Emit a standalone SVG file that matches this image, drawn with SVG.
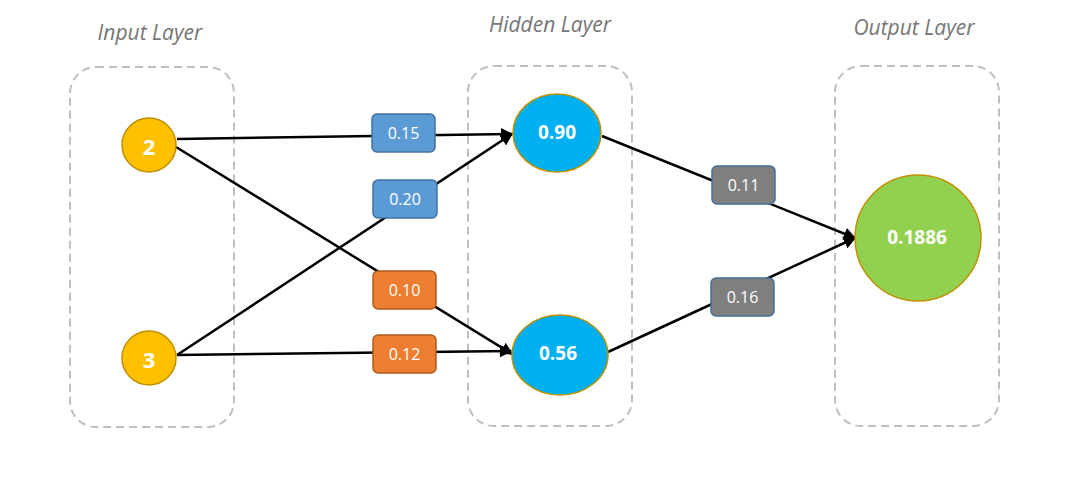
<svg xmlns="http://www.w3.org/2000/svg" width="1067" height="492" viewBox="0 0 1067 492">
<style>
.layer{fill:none;stroke:#BFBFBF;stroke-width:2;stroke-dasharray:8 5}
.title{font-family:"Open Sans","DejaVu Sans",sans-serif;font-style:italic;font-size:21px;fill:#767676}
.edge{stroke:#000;stroke-width:2.5;fill:none}
.w{font-family:"Open Sans","Liberation Sans",sans-serif;font-size:16px;fill:#fff;text-anchor:middle;dominant-baseline:central}
.n{font-family:"Open Sans","Liberation Sans",sans-serif;font-size:19px;font-weight:bold;fill:#fff;text-anchor:middle;dominant-baseline:central}
.big{font-size:22px}
.blue{fill:#5B9BD5;stroke:#41719C;stroke-width:1.5}
.orange{fill:#ED7D31;stroke:#AE5A21;stroke-width:1.5}
.gray{fill:#7F7F7F;stroke:#41719C;stroke-width:1.5}
</style>
<defs>
<marker id="arr" viewBox="0 0 10 10" refX="9" refY="5" markerWidth="5" markerHeight="5" orient="auto" markerUnits="strokeWidth">
<path d="M0,0 L10,5 L0,10 z" fill="#000"/>
</marker>
</defs>
<rect width="1067" height="492" fill="#fff"/>
<g id="layers">
<rect class="layer" x="70" y="67" width="164" height="360" rx="26"/>
<rect class="layer" x="468" y="66" width="164" height="360" rx="26"/>
<rect class="layer" x="835" y="66" width="164" height="360" rx="26"/>
<text class="title" x="150" y="40" text-anchor="middle">Input Layer</text>
<text class="title" x="550" y="32" text-anchor="middle">Hidden Layer</text>
<text class="title" x="914" y="35" text-anchor="middle">Output Layer</text>
</g>
<g id="connectors">
<line class="edge" x1="177" y1="139" x2="512" y2="134" marker-end="url(#arr)"/>
<line class="edge" x1="176" y1="147" x2="512" y2="354" marker-end="url(#arr)"/>
<line class="edge" x1="177" y1="355" x2="512" y2="134" marker-end="url(#arr)"/>
<line class="edge" x1="177" y1="355" x2="511" y2="351" marker-end="url(#arr)"/>
<line class="edge" x1="602" y1="136" x2="855" y2="238" marker-end="url(#arr)"/>
<line class="edge" x1="608" y1="352" x2="855" y2="238" marker-end="url(#arr)"/>
</g>
<g id="w015"><rect class="blue" x="372" y="114" width="63" height="38" rx="5"/><text class="w" x="403.5" y="133">0.15</text></g>
<g id="w020"><rect class="blue" x="373" y="180" width="64" height="38" rx="5"/><text class="w" x="405" y="199">0.20</text></g>
<g id="w010"><rect class="orange" x="373" y="271" width="63" height="38" rx="5"/><text class="w" x="404.5" y="290">0.10</text></g>
<g id="w012"><rect class="orange" x="373" y="335" width="63" height="38" rx="5"/><text class="w" x="404.5" y="354">0.12</text></g>
<g id="w011"><rect class="gray" x="712" y="166" width="63" height="38" rx="5"/><text class="w" x="743.5" y="185">0.11</text></g>
<g id="w016"><rect class="gray" x="711" y="278" width="63" height="38" rx="5"/><text class="w" x="742.5" y="297">0.16</text></g>
<g id="in2"><circle cx="149" cy="145" r="27" fill="#FFC000" stroke="#BF9000" stroke-width="1.5"/><text class="n big" x="149" y="146">2</text></g>
<g id="in3"><circle cx="149" cy="358" r="27" fill="#FFC000" stroke="#BF9000" stroke-width="1.5"/><text class="n big" x="149" y="359">3</text></g>
<g id="h090"><ellipse cx="557" cy="133" rx="44" ry="39" fill="#00B0F0" stroke="#BF9000" stroke-width="1.5"/><text class="n" x="557" y="132">0.90</text></g>
<g id="h056"><ellipse cx="560" cy="355" rx="48" ry="40" fill="#00B0F0" stroke="#BF9000" stroke-width="1.5"/><text class="n" x="558" y="353">0.56</text></g>
<g id="out"><circle cx="918" cy="238" r="63" fill="#92D050" stroke="#BF9000" stroke-width="1.5"/><text class="n" x="917" y="237">0.1886</text></g>
</svg>
